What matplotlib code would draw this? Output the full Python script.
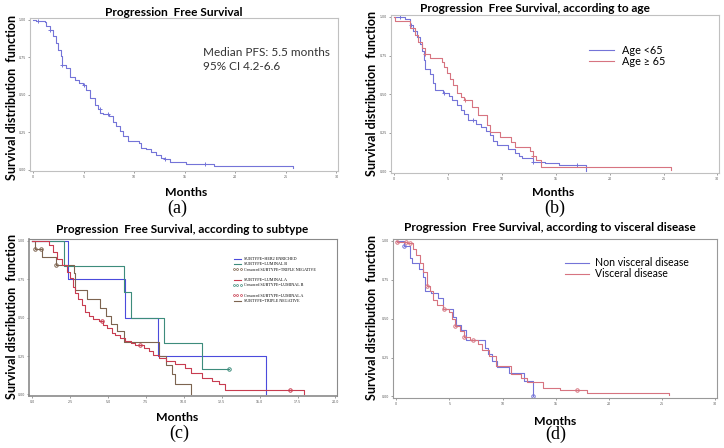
import numpy as np
import matplotlib.pyplot as plt
from matplotlib.lines import Line2D

# ---- data ----
# (a) overall PFS
a_t = [0, 0.3, 1.15, 1.3, 1.65, 2.0, 2.25, 2.5, 2.8, 2.9, 3.3, 3.7, 4.1, 4.55, 4.9, 5.2, 5.6,
       6.1, 6.4, 6.65, 6.9, 7.55, 7.9, 8.2, 8.55, 8.9, 9.4, 10.5, 10.7, 11.2, 11.7, 12.2,
       12.7, 13.0, 13.5, 15.1, 17.9, 25.7]
a_s = [1.0, 0.995, 0.987, 0.96, 0.935, 0.89, 0.845, 0.80, 0.755, 0.70, 0.675, 0.62, 0.60,
       0.575, 0.565, 0.53, 0.475, 0.43, 0.405, 0.38, 0.37, 0.36, 0.32, 0.29, 0.26, 0.225,
       0.19, 0.18, 0.145, 0.135, 0.117, 0.10, 0.08, 0.068, 0.05, 0.034, 0.022, 0.007]
a_cens = [0.5, 1.7, 2.9, 5.0, 6.6, 7.4, 13.0, 17.0]

# (b) by age
b_young_t = [0, 1.0, 1.45, 1.75, 2.1, 2.4, 2.6, 2.8, 2.85, 3.3, 3.6, 3.75, 4.5, 5.1, 5.4, 5.8,
             6.2, 6.5, 6.85, 7.6, 8.1, 8.5, 8.85, 9.2, 9.5, 10.55, 11.2, 11.6, 11.9, 12.9,
             14.0, 15.3, 17.8]
b_young_s = [1.0, 0.985, 0.95, 0.91, 0.87, 0.825, 0.78, 0.72, 0.66, 0.63, 0.57, 0.53, 0.51,
             0.49, 0.46, 0.43, 0.40, 0.37, 0.33, 0.31, 0.29, 0.26, 0.235, 0.20, 0.17, 0.145,
             0.12, 0.10, 0.085, 0.06, 0.055, 0.04, 0.0]
b_young_cens = [0.5, 1.6, 4.6, 7.3, 12.9, 17.0]
b_old_t = [0, 0.1, 1.45, 1.9, 2.2, 2.6, 2.9, 3.3, 4.4, 4.6, 4.9, 5.2, 5.5, 5.8, 6.2, 6.5, 7.2,
           7.8, 8.6, 8.9, 9.8, 10.8, 11.2, 12.6, 12.9, 13.2, 13.6, 25.7]
b_old_s = [1.0, 0.97, 0.93, 0.88, 0.835, 0.80, 0.76, 0.735, 0.705, 0.675, 0.64, 0.60, 0.56,
           0.51, 0.48, 0.46, 0.42, 0.365, 0.30, 0.255, 0.225, 0.19, 0.16, 0.13, 0.10, 0.075,
           0.032, 0.01]
b_old_cens = [2.9, 6.6, 12.9]

# (c) by subtype
c_her2_t = [0, 2.4, 6.15, 8.3, 15.4]
c_her2_s = [1.0, 0.75, 0.50, 0.25, 0.0]
c_lumb_t = [0, 2.1, 6.05, 6.55, 8.7, 11.2, 13.0]
c_lumb_s = [1.0, 0.833, 0.667, 0.50, 0.333, 0.167, 0.167]
c_lumb_cens = [13.0]
c_tn_t = [0, 0.2, 0.65, 1.55, 2.75, 2.8, 3.6, 4.5, 4.9, 5.2, 5.6, 6.05, 8.35, 8.8, 9.2, 9.45, 10.45]
c_tn_s = [1.0, 0.948, 0.895, 0.84, 0.79, 0.68, 0.62, 0.565, 0.51, 0.46, 0.41, 0.34, 0.25,
          0.19, 0.13, 0.065, 0.0]
c_tn_cens = [0.2, 0.6, 1.6]
c_luma_t = [0, 1.1, 1.4, 1.65, 2.0, 2.3, 2.5, 2.7, 2.8, 3.0, 3.3, 3.5, 3.75, 4.05, 4.4, 4.7,
            4.95, 5.3, 5.5, 5.8, 6.15, 6.5, 6.8, 7.35, 7.7, 8.0, 8.35, 8.8, 9.45, 10.1, 10.45,
            11.2, 11.85, 12.3, 12.75, 13.1, 17.9]
c_luma_s = [1.0, 0.97, 0.93, 0.88, 0.84, 0.80, 0.76, 0.70, 0.66, 0.62, 0.58, 0.54, 0.51,
            0.49, 0.475, 0.455, 0.43, 0.40, 0.385, 0.37, 0.345, 0.335, 0.325, 0.30, 0.28,
            0.26, 0.235, 0.22, 0.20, 0.17, 0.14, 0.11, 0.09, 0.07, 0.03, 0.03, 0.0]
c_luma_cens = [4.6, 7.1, 17.0]

# (d) by visceral disease
d_non_t = [0, 0.7, 1.3, 1.45, 2.1, 2.55, 2.75, 3.3, 3.9, 4.4, 5.3, 5.6, 6.1, 6.55, 8.3, 8.6,
           9.0, 9.5, 10.6, 12.0, 12.9]
d_non_s = [1.0, 0.965, 0.89, 0.855, 0.82, 0.77, 0.675, 0.665, 0.63, 0.56, 0.51, 0.46, 0.43,
           0.365, 0.31, 0.27, 0.23, 0.19, 0.15, 0.10, 0.0]
d_non_cens = [0.7, 12.9]
d_visc_t = [0, 0.1, 1.0, 1.6, 1.9, 2.2, 2.55, 2.85, 3.15, 3.45, 3.8, 4.4, 5.0, 5.25, 5.5, 5.95,
            6.4, 6.9, 7.65, 8.1, 8.7, 9.35, 10.75, 11.7, 12.3, 13.8, 15.4, 17.9, 25.6]
d_visc_s = [1.0, 0.99, 0.985, 0.945, 0.91, 0.855, 0.80, 0.71, 0.675, 0.62, 0.59, 0.56, 0.545,
            0.50, 0.455, 0.42, 0.38, 0.36, 0.335, 0.30, 0.26, 0.195, 0.145, 0.12, 0.09, 0.057,
            0.043, 0.02, 0.01]
d_visc_cens = [0.1, 0.9, 1.3, 2.9, 4.5, 5.5, 6.4, 7.2, 17.0]

BLUE = '#7474d8'
PINK = '#d77480'


def surv_at(t, s, x):
    i = np.searchsorted(t, x, side='right') - 1
    return np.asarray(s)[i]


def km(ax, t, s, color, cens=None, marker='+', lw=0.8):
    ax.step(t, s, where='post', color=color, lw=lw)
    if cens:
        ax.plot(cens, surv_at(t, s, cens), linestyle='none', marker=marker, ms=2.5,
                mfc='none', mec=color, mew=0.7)


W, H = 724, 448
fig = plt.figure(figsize=(W / 100, H / 100), dpi=100)


def add_ax(l, r, t, b, xmax, xticks, xlabels, yticks, ylabels, frame='#c0c0c0'):
    ax = fig.add_axes([l / W, 1 - b / H, (r - l) / W, (b - t) / H])
    ax.set_xlim(-0.01 * xmax, xmax * 1.005)
    ax.set_ylim(-0.01, 1.012)
    ax.set_xticks(xticks)
    ax.set_xticklabels(xlabels)
    ax.set_yticks(yticks)
    ax.set_yticklabels(ylabels)
    ax.tick_params(labelsize=2.3, length=1.5, width=0.4, pad=1.5, colors='#555555')
    for sp in ax.spines.values():
        sp.set_color(frame)
        sp.set_linewidth(0.8)
    return ax


def labels(cx, cy_title, title, tsize, ylx, yly, mx, my, px, py, tag):
    fig.text(cx / W, 1 - cy_title / H, title, ha='center', va='center',
             family='Lato', weight='bold', fontsize=tsize)
    fig.text(ylx / W, 1 - yly / H, 'Survival distribution  function', rotation=90,
             ha='center', va='center', family='Lato', weight='bold', fontsize=9.0)
    fig.text(mx / W, 1 - my / H, 'Months', ha='center', va='center',
             family='Lato', weight='bold', fontsize=8.8)
    fig.text(px / W, 1 - py / H, tag, ha='center', va='center',
             family='Liberation Serif', fontsize=13)


def two_legend(ax, names, x0, top, size, hlen, tpad, lsp):
    ax.legend(handles=[Line2D([], [], color=BLUE, lw=0.8), Line2D([], [], color=PINK, lw=0.8)],
              labels=names, loc='upper left', bbox_to_anchor=(x0, top), frameon=False,
              prop={'family': 'Lato', 'size': size}, handlelength=hlen,
              handletextpad=tpad, labelspacing=lsp, borderpad=0, borderaxespad=0)


yt = [0, 0.25, 0.5, 0.75, 1.0]
yl = ['0.00', '0.25', '0.50', '0.75', '1.00']
xt30 = [0, 5, 10, 15, 20, 25, 30]
xl30 = [str(v) for v in xt30]
xt20 = [0, 2.5, 5, 7.5, 10, 12.5, 15, 17.5, 20]
xl20 = ['%.1f' % v for v in xt20]

# (a)
ax = add_ax(30, 338, 18, 171, 30, xt30, xl30, yt, yl)
km(ax, a_t, a_s, BLUE, a_cens)
labels(174, 12, 'Progression  Free Survival', 8.6, 12, 97, 186, 192, 177, 208, '(a)')
fig.text(203 / W, 1 - 52 / H, 'Median PFS: 5.5 months', ha='left', va='center',
         family='Lato', fontsize=8.5, color='#333333')
fig.text(203 / W, 1 - 66 / H, '95% CI 4.2-6.6', ha='left', va='center',
         family='Lato', fontsize=8.5, color='#333333')

# (b)
ax = add_ax(391, 719, 15, 173, 30, xt30, xl30, yt, yl)
km(ax, b_young_t, b_young_s, BLUE, b_young_cens)
km(ax, b_old_t, b_old_s, PINK, b_old_cens)
labels(535, 9, 'Progression  Free Survival, according to age', 8.6, 372, 93, 553, 193, 555, 208, '(b)')
two_legend(ax, ['Age <65', 'Age \u2265 65'], 0.604, 0.81, 7.8, 2.3, 0.75, 0.0)

# (c)
ax = add_ax(29, 337, 239, 396, 20, xt20, xl20, yt, yl, frame='#8a8a8a')
ax.spines['left'].set_linewidth(1.2)
ax.spines['bottom'].set_linewidth(1.2)
HER2, LUMB, TN, LUMA = '#4b4bdc', '#3d8c7c', '#7d6450', '#c83c50'
km(ax, c_her2_t, c_her2_s, HER2)
km(ax, c_lumb_t, c_lumb_s, LUMB, c_lumb_cens, marker='o')
km(ax, c_tn_t, c_tn_s, TN, c_tn_cens, marker='o')
km(ax, c_luma_t, c_luma_s, LUMA, c_luma_cens, marker='o')
labels(182, 229, 'Progression  Free Survival, according to subtype', 8.5, 12, 316, 177, 417, 179, 433, '(c)')


def circ(c):
    return Line2D([], [], linestyle='none', marker='o', ms=1.4, mfc='none', mec=c, mew=0.5)


blank = Line2D([], [], linestyle='none')
ax.legend(handles=[Line2D([], [], color=HER2, lw=0.8), Line2D([], [], color=LUMB, lw=0.8),
                   circ(TN), blank, Line2D([], [], color=LUMA, lw=0.8), circ(LUMB), blank,
                   circ(LUMA), Line2D([], [], color=TN, lw=0.8)],
          labels=['SUBTYPE=HER2 ENRICHED', 'SUBTYPE=LUMINAL B',
                  'Censored SUBTYPE=TRIPLE NEGATIVE', '', 'SUBTYPE=LUMINAL A',
                  'Censored SUBTYPE=LUMINAL B', '', 'Censored SUBTYPE=LUMINAL A',
                  'SUBTYPE=TRIPLE NEGATIVE'],
          loc='upper left', bbox_to_anchor=(0.662, 0.885), frameon=False, numpoints=3,
          prop={'family': 'Liberation Serif', 'size': 3.0}, handlelength=2.2,
          handletextpad=0.5, labelspacing=0.3, borderpad=0, borderaxespad=0)

# (d)
ax = add_ax(393, 717, 239, 398, 30, xt30, xl30, yt, yl, frame='#999999')
km(ax, d_non_t, d_non_s, BLUE, d_non_cens, marker='o')
km(ax, d_visc_t, d_visc_s, PINK, d_visc_cens, marker='o')
labels(550, 227, 'Progression  Free Survival, according to visceral disease', 8.5, 372, 317, 555, 421, 556, 434, '(d)')
two_legend(ax, ['Non visceral disease', 'Visceral disease'], 0.531, 0.885, 7.6, 2.3, 0.5, 0.0)

fig.savefig('out.png', dpi=100)
